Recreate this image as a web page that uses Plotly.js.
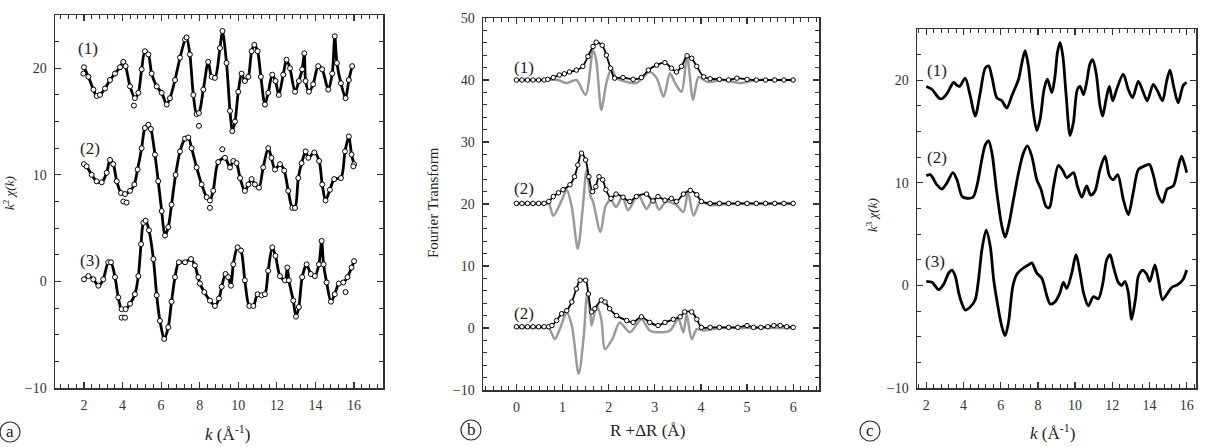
<!DOCTYPE html>
<html><head><meta charset="utf-8">
<script src="https://cdn.plot.ly/plotly-3.0.1.min.js"></script>
<style>html,body{margin:0;padding:0;background:#fff}#chart{width:1209px;height:447px}</style>
</head><body><div id="chart"></div>
<script>
// ---------- Panel a : k^2 chi(k), lines (fit) ----------
const a1k = [2.0,2.23,2.49,2.66,2.83,3.09,3.35,3.61,3.87,4.04,4.16,4.39,4.64,4.82,4.99,5.16,5.34,5.51,5.77,6.03,6.29,6.46,6.72,6.98,7.24,7.32,7.49,7.67,7.84,7.96,8.19,8.44,8.62,8.79,9.05,9.18,9.39,9.57,9.69,9.83,10.0,10.17,10.34,10.52,10.69,10.83,11.0,11.17,11.38,11.55,11.76,11.93,12.1,12.33,12.5,12.68,12.94,13.14,13.31,13.42,13.49,13.66,13.88,14.14,14.35,14.66,14.87,15.0,15.11,15.32,15.56,15.73,15.9];
const a1y = [20.1,19.2,18.0,17.4,17.5,18.1,18.9,19.5,20.1,20.6,20.2,18.3,17.2,17.7,19.9,21.6,21.3,19.5,18.3,17.7,16.6,17.2,18.9,21.0,22.7,22.9,21.3,17.5,15.7,15.8,18.0,20.6,19.2,19.1,21.9,23.5,20.5,16.0,14.1,15.0,17.8,19.5,18.8,19.2,21.6,22.2,21.6,19.2,16.6,17.7,19.4,18.8,17.5,19.4,20.8,20.0,17.8,18.8,19.9,21.4,18.8,17.8,18.5,20.2,19.9,18.0,19.5,23.0,20.5,18.6,17.2,18.9,20.2];
const a2k = [2.0,2.14,2.4,2.66,2.92,3.18,3.35,3.52,3.7,3.92,4.13,4.39,4.61,4.78,4.99,5.16,5.34,5.47,5.68,5.85,6.03,6.2,6.37,6.54,6.75,6.98,7.24,7.41,7.58,7.84,8.1,8.36,8.53,8.7,8.96,9.31,9.57,9.74,9.91,10.09,10.34,10.52,10.69,10.86,11.07,11.29,11.55,11.72,11.9,12.16,12.38,12.59,12.8,12.94,13.11,13.28,13.49,13.63,13.94,14.19,14.35,14.52,14.75,14.97,15.32,15.53,15.73,15.87,16.0];
const a2y = [11.0,10.8,10.0,9.4,9.3,10.2,11.4,11.0,9.4,8.3,8.2,8.5,9.1,10.5,12.5,14.4,14.7,14.3,11.9,9.4,6.6,4.3,5.1,7.2,10.0,12.2,13.4,13.5,12.5,10.7,9.1,7.9,7.6,8.5,11.2,11.6,10.7,11.3,11.1,9.7,8.5,9.1,9.6,9.1,8.8,10.7,12.5,11.6,10.5,11.0,10.4,8.5,6.9,6.9,9.7,11.1,12.2,11.6,12.1,11.3,9.1,7.6,8.6,9.6,9.7,12.2,13.6,11.9,11.0];
const a3k = [2.0,2.23,2.49,2.75,3.0,3.26,3.4,3.61,3.78,3.95,4.16,4.39,4.64,4.82,4.96,5.08,5.2,5.37,5.6,5.77,5.94,6.16,6.37,6.54,6.72,6.92,7.24,7.55,7.75,8.01,8.24,8.53,8.79,9.0,9.14,9.34,9.48,9.62,9.74,9.96,10.14,10.34,10.57,10.78,11.0,11.21,11.38,11.55,11.76,11.93,12.16,12.42,12.54,12.62,12.85,12.99,13.14,13.31,13.54,13.76,13.97,14.18,14.32,14.42,14.58,14.8,15.0,15.21,15.44,15.66,15.87,16.0];
const a3y = [0.2,0.5,0.2,-0.4,0.2,1.8,1.8,0.4,-1.5,-2.6,-2.6,-2.1,-1.2,0.5,3.5,5.5,5.7,4.8,2.1,-1.3,-3.7,-5.4,-4.3,-1.9,0.4,1.8,1.8,2.1,1.5,-0.2,-1.0,-1.8,-2.3,-1.6,-0.5,0.7,0.4,-0.4,1.6,3.2,2.9,0.1,-2.3,-2.3,-1.2,-1.3,-1.2,1.0,3.2,2.4,0.5,0.1,1.3,0.1,-1.8,-3.3,-2.4,0.4,1.6,0.7,0.5,1.6,3.8,1.6,-0.1,-1.9,-1.2,-0.2,-0.1,0.4,1.3,1.9];
// data points that stand off the fitted lines
const aOffK = [1.97,4.59,7.96,4.04,4.21,9.17,8.53,15.96,3.95,4.13,7.93,15.56];
const aOffY = [19.5,16.5,14.6,7.5,7.4,12.4,6.9,10.8,-3.4,-3.4,0.4,-1.0];

// ---------- Panel b : Fourier transform ----------
const b1R = [0,0.12,0.24,0.36,0.48,0.6,0.68,0.8,0.93,1.04,1.15,1.3,1.44,1.55,1.66,1.73,1.86,1.95,2.04,2.13,2.31,2.53,2.71,2.86,3.04,3.22,3.36,3.47,3.58,3.7,3.8,3.91,4.06,4.2,4.4,4.6,4.78,5.0,5.2,5.4,5.6,5.8,6.0];
const b1Mag = [40.0,40.0,40.0,40.0,40.0,40.0,40.1,40.4,40.8,41.0,41.3,41.6,42.2,43.8,45.4,46.1,45.6,44.0,41.9,40.3,40.4,40.1,40.4,41.6,42.4,42.8,41.9,41.3,42.2,43.9,43.5,42.2,40.5,40.2,40.1,40.0,40.3,40.1,40.0,40.0,40.0,40.0,40.0];
const b1gR = [0,0.5,0.9,1.08,1.3,1.5,1.66,1.73,1.84,1.95,2.06,2.17,2.38,2.6,2.89,3.04,3.19,3.33,3.44,3.58,3.7,3.83,3.95,4.13,4.5,4.85,5.2,5.6,6.0];
const b1Im = [40,40,40,39.5,40,37.6,44.8,43.2,35.2,39.5,41.9,40.3,39.7,39.5,41.3,40.3,37.3,41.1,39.5,38.1,43.8,36.8,40.5,39.7,40,39.5,40,40,40];
const b2R = [0,0.12,0.24,0.36,0.48,0.6,0.7,0.8,0.91,1.01,1.16,1.26,1.33,1.41,1.5,1.57,1.65,1.72,1.79,1.87,1.94,2.05,2.16,2.31,2.46,2.6,2.82,2.96,3.07,3.22,3.36,3.47,3.62,3.77,3.91,4.01,4.2,4.4,4.6,4.8,5.0,5.2,5.4,5.6,5.8,6.0];
const b2Mag = [20.1,20.1,20.1,20.1,20.1,20.1,20.4,21.2,21.8,22.3,23.1,24.4,26.3,28.2,27.1,24.4,22.0,22.8,24.4,23.9,22.3,20.9,21.6,21.1,20.4,21.2,21.6,20.5,21.2,20.6,20.9,20.4,21.6,22.2,21.5,20.4,20.1,20.1,20.1,20.1,20.1,20.1,20.1,20.1,20.1,20.1];
const b2gR = [0,0.5,0.7,0.8,0.98,1.09,1.2,1.33,1.44,1.52,1.61,1.66,1.82,1.94,2.05,2.16,2.3,2.42,2.64,2.82,2.97,3.09,3.25,3.47,3.62,3.72,3.84,3.99,4.2,4.6,5.0,5.5,6.0];
const b2Im = [20,20,20,18.1,20.6,22.3,19.5,12.8,19.5,25.4,21.2,20.4,15.5,19.8,20.6,19.5,21.2,19.0,21.5,19.2,20.9,19.1,20.4,19.8,18.7,21.9,18.1,20.4,19.8,20,20,20,20];
const b3R = [0,0.12,0.24,0.36,0.48,0.6,0.7,0.77,0.87,0.98,1.09,1.2,1.3,1.38,1.5,1.56,1.63,1.7,1.84,1.92,2.02,2.17,2.39,2.53,2.71,2.89,3.07,3.22,3.4,3.55,3.65,3.8,3.91,4.01,4.2,4.4,4.6,4.8,5.0,5.14,5.3,5.45,5.58,5.72,5.86,6.0];
const b3Mag = [0.2,0.2,0.2,0.2,0.2,0.2,0.2,0.4,1.2,2.3,2.8,4.2,6.3,7.7,7.7,5.5,2.6,3.1,4.5,4.2,3.1,2.0,1.2,0.9,1.8,0.9,0.4,0.9,1.4,1.8,2.6,2.6,1.4,0.1,0.1,0.1,0.1,0.1,0.4,0.1,0.1,0.2,0.4,0.4,0.2,0.1];
const b3gR = [0,0.5,0.7,0.83,0.94,1.09,1.2,1.35,1.46,1.53,1.6,1.63,1.74,1.84,1.92,2.08,2.24,2.46,2.71,2.89,3.12,3.33,3.51,3.62,3.69,3.8,3.91,4.06,4.4,5.0,5.5,6.0];
const b3Im = [0,0,0,-1.8,-0.2,2.5,0.4,-7.4,-1.3,5.2,2.5,0.4,3.6,1.4,-3.4,-1.8,0.9,-0.7,1.4,-0.4,-0.7,-0.4,1.4,-0.7,2.3,-1.8,-0.2,-0.4,0,0,0,0];

// ---------- Panel c : k^3 chi(k) ----------
const c1k = [2.0,2.31,2.66,2.84,3.11,3.47,3.65,3.79,4.09,4.36,4.63,4.9,5.17,5.35,5.53,5.79,6.06,6.33,6.6,6.96,7.14,7.31,7.49,7.73,7.94,8.12,8.33,8.51,8.75,8.92,9.05,9.19,9.34,9.52,9.73,9.91,10.12,10.27,10.45,10.62,10.8,10.95,11.13,11.34,11.48,11.66,11.84,12.02,12.23,12.59,12.86,13.09,13.4,13.63,13.88,14.2,14.42,14.7,14.92,15.1,15.31,15.54,15.81,16.0];
const c1y = [19.4,19.1,18.3,18.2,18.7,19.8,19.5,19.4,20.2,18.5,16.5,18.8,21.2,21.4,20.3,18.3,18.0,17.3,18.5,20.1,21.7,22.9,21.4,17.2,15.1,16.2,19.1,20.1,18.8,20.4,22.7,23.7,22.4,18.5,14.6,15.9,19.1,19.4,18.6,19.8,21.6,22.0,20.7,17.5,16.5,18.1,19.4,18.0,19.1,20.6,19.1,18.3,19.9,19.0,18.0,19.6,19.0,18.0,19.9,21.0,19.3,17.8,19.5,19.8];
const c2k = [2.0,2.22,2.57,2.84,3.11,3.43,3.65,3.92,4.18,4.51,4.72,4.99,5.17,5.35,5.53,5.79,6.06,6.24,6.42,6.69,6.96,7.22,7.44,7.67,7.94,8.16,8.44,8.62,8.84,9.1,9.34,9.55,9.91,10.12,10.36,10.62,10.84,11.07,11.34,11.61,11.84,12.05,12.29,12.59,12.86,13.13,13.4,13.67,13.99,14.2,14.47,14.7,14.95,15.28,15.54,15.72,15.9,16.0];
const c2y = [10.7,10.8,9.8,9.4,10.0,11.0,10.3,8.7,8.5,8.6,9.7,12.3,13.7,14.1,12.9,9.1,5.8,4.7,5.8,8.4,11.0,12.9,13.6,12.6,10.3,9.4,7.7,7.6,9.7,11.7,11.2,10.5,11.0,9.7,8.6,9.7,8.8,9.2,11.3,12.6,10.7,10.3,10.8,8.4,6.9,9.1,11.3,11.6,11.8,10.8,8.8,8.1,9.4,9.7,11.5,12.6,11.7,11.0];
const c3k = [2.0,2.31,2.66,2.93,3.2,3.38,3.56,3.74,3.92,4.09,4.36,4.63,4.81,4.99,5.22,5.44,5.62,5.79,6.06,6.24,6.42,6.65,6.87,7.22,7.49,7.67,7.94,8.21,8.48,8.66,8.92,9.19,9.37,9.55,9.82,10.05,10.27,10.45,10.71,10.98,11.25,11.48,11.7,11.88,12.05,12.32,12.5,12.68,12.86,13.04,13.27,13.4,13.63,13.85,14.02,14.29,14.47,14.7,14.92,15.19,15.54,15.81,16.0];
const c3y = [0.4,0.3,-0.4,0.1,1.2,1.5,0.9,-0.7,-1.8,-2.4,-2.1,-1.4,0.6,3.5,5.4,3.8,0.6,-1.4,-4.0,-4.9,-3.6,-0.1,1.1,1.7,2.0,2.2,1.2,0.7,-1.0,-1.8,-1.6,-0.7,0.3,-0.3,1.2,3.0,1.2,-0.7,-2.0,-1.1,-1.3,0.1,2.5,3.0,1.9,0.3,0.0,0.4,-0.7,-3.3,-1.0,0.9,1.5,1.1,0.4,2.0,0.6,-1.4,-0.9,-0.2,0.1,0.6,1.5];

const curveLabels = ['(1)','(2)','(3)'];
const curveLabelsB = ['(1)','(2)','(2)'];

// ---------- build ----------
const W = 1209, H = 447;
const SERIF = 'Liberation Serif';
const INK = '#222';
const fitLine = (x, y, xa, ya, w) => ({x, y, xaxis: xa, yaxis: ya, mode: 'lines', type: 'scatter',
  line: {color: '#000', width: w, shape: 'spline', smoothing: 0.8}, hoverinfo: 'skip', showlegend: false});
const pts = (x, y, xa, ya, s) => ({x, y, xaxis: xa, yaxis: ya, mode: 'markers', type: 'scatter',
  marker: {symbol: 'circle', size: s || 5, color: '#fff', line: {color: '#000', width: 1}}, hoverinfo: 'skip', showlegend: false});
const grayLine = (x, y) => ({x, y, xaxis: 'x2', yaxis: 'y2', mode: 'lines', type: 'scatter',
  line: {color: '#9a9a9a', width: 2.5, shape: 'spline', smoothing: 0.8}, hoverinfo: 'skip', showlegend: false});

const traces = [
  fitLine(a1k, a1y, 'x', 'y', 2.8), fitLine(a2k, a2y, 'x', 'y', 2.8), fitLine(a3k, a3y, 'x', 'y', 2.8),
  pts(a1k, a1y, 'x', 'y'), pts(a2k, a2y, 'x', 'y'), pts(a3k, a3y, 'x', 'y'), pts(aOffK, aOffY, 'x', 'y'),
  grayLine(b1gR, b1Im), grayLine(b2gR, b2Im), grayLine(b3gR, b3Im),
  fitLine(b1R, b1Mag, 'x2', 'y2', 1.8), fitLine(b2R, b2Mag, 'x2', 'y2', 1.8), fitLine(b3R, b3Mag, 'x2', 'y2', 1.8),
  pts(b1R, b1Mag, 'x2', 'y2', 4.5), pts(b2R, b2Mag, 'x2', 'y2', 4.5), pts(b3R, b3Mag, 'x2', 'y2', 4.5),
  fitLine(c1k, c1y, 'x3', 'y3', 2.8), fitLine(c2k, c2y, 'x3', 'y3', 2.8), fitLine(c3k, c3y, 'x3', 'y3', 2.8)
];

function axis(o) {
  return Object.assign({
    showline: true, linecolor: '#333', linewidth: 1.5, mirror: 'allticks',
    ticks: 'inside', ticklen: 6, tickwidth: 1.2, tickcolor: '#333',
    showgrid: false, zeroline: false, fixedrange: true,
    tickfont: {family: SERIF, size: 14, color: '#333'}, ticklabelstandoff: 4
  }, o);
}
const minor = d => ({ticks: 'inside', ticklen: 4, tickwidth: 1, tickcolor: '#333', dtick: d, tick0: 0, showgrid: false});
const px2x = p => p / W;
const px2y = p => 1 - p / H;

const layout = {
  width: W, height: H, margin: {l: 0, r: 0, t: 0, b: 0},
  paper_bgcolor: '#fff', plot_bgcolor: '#fff', showlegend: false,
  font: {family: SERIF, color: INK},
  xaxis: axis({domain: [px2x(55), px2x(383)], range: [0.5, 17.5], tick0: 0, dtick: 2, anchor: 'y', minor: minor(0.4)}),
  yaxis: axis({domain: [px2y(388), px2y(15)], range: [-10, 25], tick0: 0, dtick: 10, anchor: 'x', minor: minor(2.5)}),
  xaxis2: axis({domain: [px2x(483), px2x(819)], range: [-0.725, 6.56], tick0: 0, dtick: 1, anchor: 'y2', minor: minor(1/6)}),
  yaxis2: axis({domain: [px2y(390), px2y(18)], range: [-10, 50], tick0: 0, dtick: 10, anchor: 'x2', minor: minor(2)}),
  xaxis3: axis({domain: [px2x(917), px2x(1196)], range: [1.5, 16.5], tick0: 0, dtick: 2, anchor: 'y3', minor: minor(0.4)}),
  yaxis3: axis({domain: [px2y(388), px2y(29)], range: [-10, 25], tick0: 0, dtick: 10, anchor: 'x3', minor: minor(2.5)}),
  annotations: [],
  shapes: []
};

function txt(x, y, text, size, extra) {
  layout.annotations.push(Object.assign({xref: 'paper', yref: 'paper', x: px2x(x), y: px2y(y),
    xanchor: 'center', yanchor: 'middle', showarrow: false, text,
    font: {family: SERIF, size, color: INK}}, extra || {}));
}
// curve labels
[[88, 49], [90, 148], [90, 260]].forEach((p, i) => txt(p[0], p[1], curveLabels[i], 17));
[[524, 67], [524, 188], [524, 313]].forEach((p, i) => txt(p[0], p[1], curveLabelsB[i], 17));
[[937, 70], [937, 157], [935, 261]].forEach((p, i) => txt(p[0], p[1], curveLabels[i], 17));
// axis titles
txt(227, 433, '<i>k</i> (Å<sup>-1</sup>)', 17);
txt(648, 430, 'R +ΔR (Å)', 17);
txt(1052, 432, '<i>k</i> (Å<sup>-1</sup>)', 17);
txt(433, 203, 'Fourier Transform', 15, {textangle: -90});
txt(9, 193, '<i>k</i><sup>2</sup> <i>χ(k)</i>', 13, {textangle: -90});
txt(872, 215, '<i>k</i><sup>3</sup> <i>χ(k)</i>', 13, {textangle: -90});
// circled panel letters
[[10, 432, 'a'], [471, 430, 'b'], [870, 431, 'c']].forEach(p => {
  layout.shapes.push({type: 'circle', xref: 'paper', yref: 'paper',
    x0: px2x(p[0] - 10), x1: px2x(p[0] + 10), y0: px2y(p[1] + 10), y1: px2y(p[1] - 10),
    line: {color: '#333', width: 1.2}});
  txt(p[0], p[1] - 1, p[2], 17);
});

Plotly.newPlot('chart', traces, layout, {staticPlot: true, displayModeBar: false});
</script>
</body></html>
